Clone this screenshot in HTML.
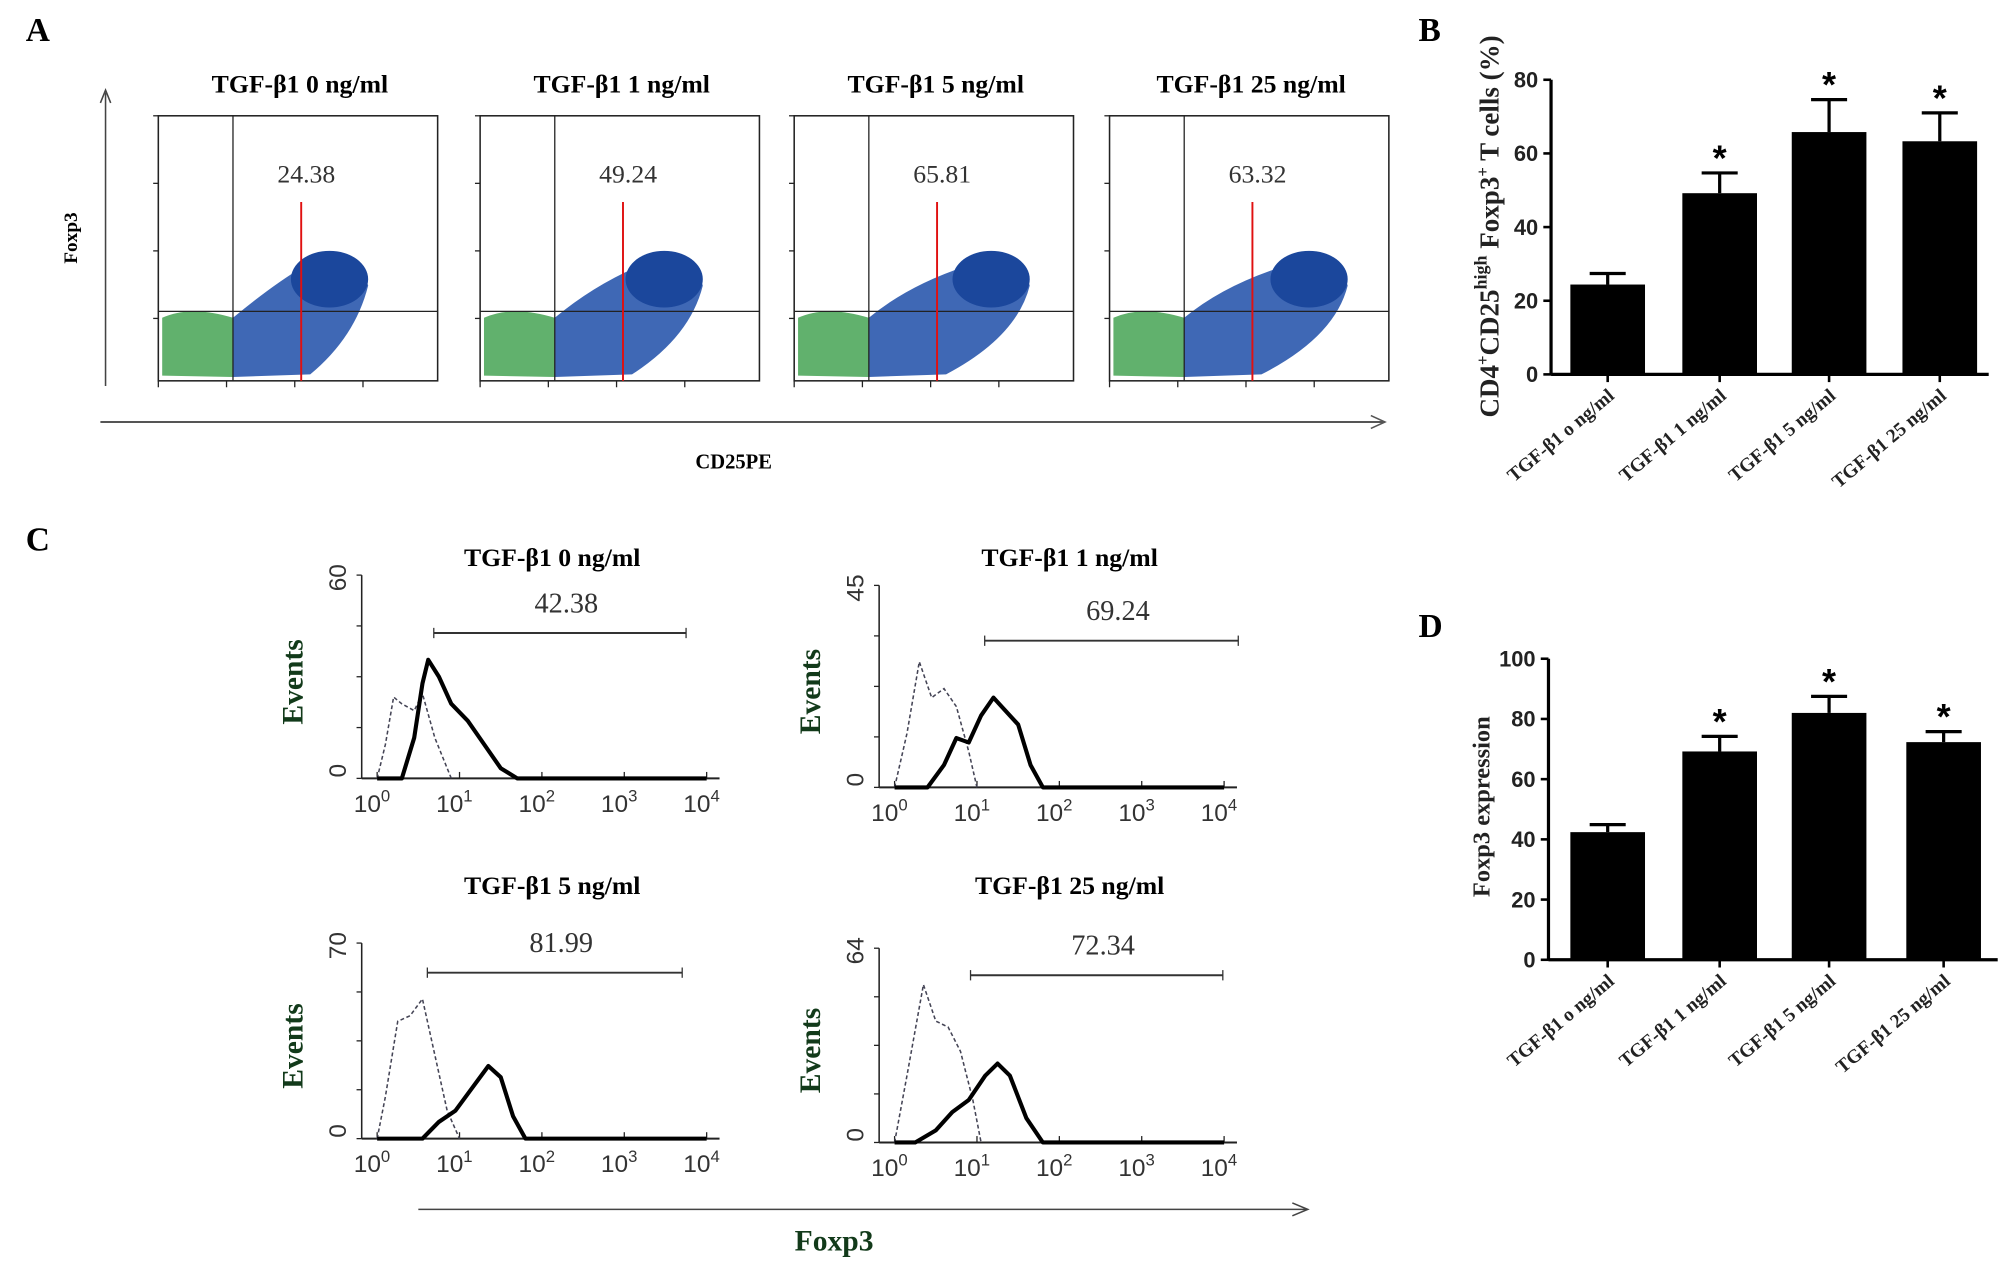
<!DOCTYPE html>
<html><head><meta charset="utf-8"><style>
html,body{margin:0;padding:0;background:#fff;}
svg{display:block;}
text{font-family:"Liberation Serif",serif;}
.sans{font-family:"Liberation Sans",sans-serif;}
</style></head><body>
<svg id="fig" width="2008" height="1266" viewBox="0 0 1560 984" preserveAspectRatio="none" xmlns="http://www.w3.org/2000/svg">
<text x="20" y="32" font-size="26" font-weight="bold">A</text>
<text x="1102" y="32" font-size="26" font-weight="bold">B</text>
<text x="20" y="428" font-size="26" font-weight="bold">C</text>
<text x="1102" y="495" font-size="26" font-weight="bold">D</text>
<g id="pa"></g>
<g id="pb"></g>
<g id="pc"></g>
<g id="pd"></g>
</svg>
<script>
// ---- data ----
const doseLabels = ["TGF-β1 0 ng/ml","TGF-β1 1 ng/ml","TGF-β1 5 ng/ml","TGF-β1 25 ng/ml"];
const barLabels = ["TGF-β1 o ng/ml","TGF-β1 1 ng/ml","TGF-β1 5 ng/ml","TGF-β1 25 ng/ml"];
const scatterPct = ["24.38","49.24","65.81","63.32"];
const bMeans = [24.4, 49.2, 65.8, 63.3];
const bErr = [3.0, 5.5, 8.8, 7.7];
const bTicks = [0,20,40,60,80];
const bSig = [false,true,true,true];
const dMeans = [42.4, 69.2, 82.0, 72.3];
const dErr = [2.5, 5.0, 5.5, 3.5];
const dTicks = [0,20,40,60,80,100];
const dSig = [false,true,true,true];
const histPct = ["42.38","69.24","81.99","72.34"];
const histMax = [60,45,70,64];
// histogram curves: [log10 value, events]
const solid0 = [[0,0],[0.3,0],[0.45,12],[0.55,28],[0.62,35],[0.75,30],[0.9,22],[1.1,17],[1.3,10],[1.5,3],[1.7,0],[4,0]];
const dash0 = [[0,0],[0.1,10],[0.2,24],[0.3,22],[0.45,20],[0.55,25],[0.7,12],[0.9,0]];
const solid1 = [[0,0],[0.4,0],[0.6,5],[0.75,11],[0.9,10],[1.05,16],[1.2,20],[1.3,18],[1.5,14],[1.65,5],[1.8,0],[4,0]];
const dash1 = [[0,0],[0.15,12],[0.3,28],[0.45,20],[0.6,22],[0.75,18],[0.9,8],[1.0,0]];
const solid2 = [[0,0],[0.55,0],[0.75,6],[0.95,10],[1.15,18],[1.35,26],[1.5,22],[1.65,8],[1.8,0],[4,0]];
const dash2 = [[0,0],[0.1,15],[0.25,42],[0.4,44],[0.55,50],[0.7,30],[0.85,10],[1.0,0]];
const solid3 = [[0,0],[0.25,0],[0.5,4],[0.7,10],[0.9,14],[1.1,22],[1.25,26],[1.4,22],[1.6,8],[1.8,0],[4,0]];
const dash3 = [[0,0],[0.15,22],[0.35,52],[0.5,40],[0.65,38],[0.8,30],[0.95,14],[1.05,0]];
const solids=[solid0,solid1,solid2,solid3], dashes=[dash0,dash1,dash2,dash3];

const NS="http://www.w3.org/2000/svg";
function mk(parent,tag,attrs,txt){const e=document.createElementNS(NS,tag);for(const k in attrs)e.setAttribute(k,attrs[k]);if(txt!==undefined)e.textContent=txt;parent.appendChild(e);return e;}

// ---- Panel A ----
const pa=document.getElementById('pa');
let e;
e=mk(pa,'line',{x1:82,y1:300,x2:82,y2:72,stroke:'#444','stroke-width':1.2});


mk(pa,'path',{d:'M78,80 L82,70 L86,80',fill:'none',stroke:'#444','stroke-width':1.2});
e=mk(pa,'line',{x1:78,y1:328,x2:1075,y2:328,stroke:'#555','stroke-width':1.5});


mk(pa,'path',{d:'M1065,323 L1076,328 L1065,333',fill:'none',stroke:'#555','stroke-width':1.2});
e=mk(pa,'text',{x:60,y:185,'font-size':15,'font-weight':'bold',transform:'rotate(-90 60 185)','text-anchor':'middle'},'Foxp3');


e=mk(pa,'text',{x:570,y:364,'font-size':16,'font-weight':'bold','text-anchor':'middle'},'CD25PE');


const boxX=[123,373,617,862], boxW=217, boxT=90, boxB=296, hY=242;
doseLabels.forEach((lab,i)=>{
  const x0=boxX[i], g=mk(pa,'g',{});
  
  
  const gate=x0+58, red=x0+111;
  const t=mk(g,'text',{x:x0+110,y:72,'font-size':20,'font-weight':'bold','text-anchor':'middle'},lab);
  
  
  mk(g,'path',{d:`M${x0+3},${boxB-4} L${x0+3},${hY+5} Q${x0+25},${hY-5} ${gate},${hY+5} L${gate},${boxB-3} Z`,fill:'#3a9e48',opacity:0.8});
  const b=i===0?0:(i===1?10:(i===2?20:22));
  mk(g,'path',{d:`M${gate},${boxB-3} L${gate},${hY+5} Q${gate+30},${hY-20} ${gate+55+b},${hY-35} Q${gate+95+b},${hY-55} ${gate+105+b},${hY-20} Q${gate+95+b},${hY+20} ${gate+60},${boxB-5} Z`,fill:'#2a58ad',opacity:0.9});
  mk(g,'ellipse',{cx:gate+75+b,cy:hY-25,rx:30,ry:22,fill:'#1b479c'});
  mk(g,'rect',{x:x0,y:boxT,width:boxW,height:boxB-boxT,fill:'none',stroke:'#222','stroke-width':1.2});
  mk(g,'line',{x1:gate,y1:boxT,x2:gate,y2:boxB,stroke:'#222','stroke-width':1});
  mk(g,'line',{x1:x0,y1:hY,x2:x0+boxW,y2:hY,stroke:'#222','stroke-width':1});
  mk(g,'line',{x1:red,y1:157,x2:red,y2:boxB,stroke:'#e01010','stroke-width':1.5});
  [0,1,2,3].forEach(k=>{mk(g,'line',{x1:x0-4,y1:boxT+k*52.5,x2:x0,y2:boxT+k*52.5,stroke:'#222'});mk(g,'line',{x1:x0+k*53,y1:boxB,x2:x0+k*53,y2:boxB+5,stroke:'#222'});});
  const p=mk(g,'text',{x:red+4,y:142,'font-size':20,'text-anchor':'middle',fill:'#333'},scatterPct[i]);
  
  
});

// ---- bar charts ----
function barChart(gid,means,errs,ticks,sig,ax,top,bottom,right,ymax,centers,title,titleX,titleY,isB,tfs){
  const g=document.getElementById(gid);
  const y=v=>bottom-(bottom-top)*v/ymax;
  mk(g,'line',{x1:ax,y1:top,x2:ax,y2:bottom,stroke:'#000','stroke-width':2.5});
  mk(g,'line',{x1:ax,y1:bottom,x2:right,y2:bottom,stroke:'#000','stroke-width':2.5});
  ticks.forEach(t=>{mk(g,'line',{x1:ax-6,y1:y(t),x2:ax,y2:y(t),stroke:'#000','stroke-width':2});
    const tl=mk(g,'text',{x:ax-10,y:y(t)+6,'font-size':17,'font-weight':'bold','text-anchor':'end',class:'sans',fill:'#222'},t);
    
    });
  means.forEach((m,i)=>{
    const c=centers[i];
    const r=mk(g,'rect',{x:c-29,y:y(m),width:58,height:bottom-y(m),fill:'#000'});
    
    
    mk(g,'line',{x1:c,y1:y(m),x2:c,y2:y(m+errs[i]),stroke:'#000','stroke-width':2.5});
    mk(g,'line',{x1:c-14,y1:y(m+errs[i]),x2:c+14,y2:y(m+errs[i]),stroke:'#000','stroke-width':2.5});
    mk(g,'line',{x1:c,y1:bottom,x2:c,y2:bottom+6,stroke:'#000','stroke-width':2});
    if(sig[i]){const s=mk(g,'text',{x:c,y:y(m+errs[i])-2,'font-size':28,'font-weight':'bold','text-anchor':'middle',class:'sans'},'*');
      
      }
    const lx=c+6, ly=bottom+18;
    const l=mk(g,'text',{x:lx,y:ly,'font-size':15,'font-weight':'bold','text-anchor':'end',transform:`rotate(-40 ${lx} ${ly})`,fill:'#222'},barLabels[i]);
    
    
  });
  const tt=mk(g,'text',{x:titleX,y:titleY,'font-size':tfs,'font-weight':'bold','text-anchor':'middle',transform:`rotate(-90 ${titleX} ${titleY})`,fill:'#222'});
  
  
  if(isB){tt.innerHTML='CD4<tspan font-size="13" dy="-8">+</tspan><tspan dy="8">CD25</tspan><tspan font-size="14" dy="-9">high</tspan><tspan dy="9"> Foxp3</tspan><tspan font-size="13" dy="-8">+</tspan><tspan dy="8"> T cells (%)</tspan>';}
  else tt.textContent=title;
}
barChart('pb',bMeans,bErr,bTicks,bSig,1205,62,291,1545,80,[1249,1336,1421,1507],'',1164,176,true,21);
barChart('pd',dMeans,dErr,dTicks,dSig,1203,512,746,1552,100,[1249,1336,1421,1510],'Foxp3 expression',1157,627,false,19);

// ---- Panel C histograms ----
const pc=document.getElementById('pc');
const hp=[{ax:281,top:447,base:605},{ax:683,top:455,base:612},{ax:281,top:733,base:885},{ax:683,top:737,base:888}];
const titleY=[440,440,695,695];
const gateY=[492,498,756,758], gateX=[[337,533],[765,962],[332,530],[754,950]];
const dec=64;
hp.forEach((p,i)=>{
  const g=mk(pc,'g',{});
  
  
  const x0=p.ax+12;
  const xs=l=>x0+l*dec, ys=v=>p.base-(p.base-p.top)*v/histMax[i];
  const t=mk(g,'text',{x:p.ax+148,y:titleY[i],'font-size':20,'font-weight':'bold','text-anchor':'middle'},doseLabels[i]);
  
  
  mk(g,'line',{x1:p.ax,y1:p.top,x2:p.ax,y2:p.base,stroke:'#222','stroke-width':1.2});
  mk(g,'line',{x1:p.ax,y1:p.base,x2:p.ax+278,y2:p.base,stroke:'#222','stroke-width':1.5});
  [0,1,2,3,4].forEach(k=>{mk(g,'line',{x1:p.ax-4,y1:p.top+k*(p.base-p.top)/4,x2:p.ax,y2:p.top+k*(p.base-p.top)/4,stroke:'#222'});
    mk(g,'line',{x1:xs(k),y1:p.base,x2:xs(k),y2:p.base-5,stroke:'#222'});
    const tl=mk(g,'text',{x:xs(k)-4,y:p.base+26,'font-size':19,'text-anchor':'middle',class:'sans',fill:'#333'});
    tl.innerHTML='10<tspan font-size="13" dy="-8">'+k+'</tspan>';
    
    });
  const mx=mk(g,'text',{x:p.ax-12,y:p.top+2,'font-size':19,class:'sans','text-anchor':'middle',transform:`rotate(-90 ${p.ax-12} ${p.top+2})`,fill:'#333'},histMax[i]);
  
  
  mk(g,'text',{x:p.ax-12,y:p.base-6,'font-size':19,class:'sans','text-anchor':'middle',transform:`rotate(-90 ${p.ax-12} ${p.base-6})`,fill:'#333'},'0');
  const ev=mk(g,'text',{x:p.ax-46,y:(p.top+p.base)/2+4,'font-size':23,'font-weight':'bold','text-anchor':'middle',fill:'#123a1a',transform:`rotate(-90 ${p.ax-46} ${(p.top+p.base)/2+4})`},'Events');
  
  
  const d=dashes[i].map((q,k)=>(k?'L':'M')+xs(q[0])+','+ys(q[1])).join(' ');
  const dl=mk(g,'path',{d:d,fill:'none',stroke:'#445','stroke-width':1.2,'stroke-dasharray':'3,2'});
  
  
  const s=solids[i].map((q,k)=>(k?'L':'M')+xs(q[0])+','+ys(q[1])).join(' ');
  const sl=mk(g,'path',{d:s,fill:'none',stroke:'#000','stroke-width':3.2,'stroke-linejoin':'round'});
  
  
  const gx=gateX[i];
  mk(g,'line',{x1:gx[0],y1:gateY[i],x2:gx[1],y2:gateY[i],stroke:'#333','stroke-width':1.5});
  mk(g,'line',{x1:gx[0],y1:gateY[i]-4,x2:gx[0],y2:gateY[i]+4,stroke:'#333'});
  mk(g,'line',{x1:gx[1],y1:gateY[i]-4,x2:gx[1],y2:gateY[i]+4,stroke:'#333'});
  const pt=mk(g,'text',{x:(gx[0]+gx[1])/2+5,y:gateY[i]-16,'font-size':22,'text-anchor':'middle',fill:'#333'},histPct[i]);
  
  
});
e=mk(pc,'line',{x1:325,y1:940,x2:1015,y2:940,stroke:'#444','stroke-width':1.2});


mk(pc,'path',{d:'M1004,935 L1016,940 L1004,945',fill:'none',stroke:'#444','stroke-width':1.2});
e=mk(pc,'text',{x:648,y:972,'font-size':23,'font-weight':'bold','text-anchor':'middle',fill:'#123a1a'},'Foxp3');


</script>
</body></html>
